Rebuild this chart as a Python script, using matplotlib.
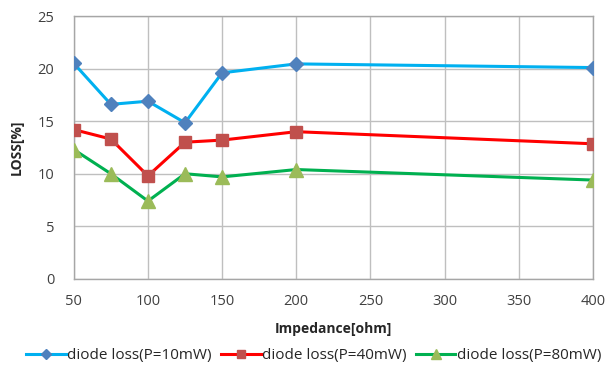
import matplotlib
matplotlib.use("Agg")
import matplotlib.pyplot as plt

impedance = [50, 75, 100, 125, 150, 200, 400]
loss_10mw = [20.5, 16.6, 16.9, 14.85, 19.6, 20.45, 20.1]
loss_40mw = [14.2, 13.3, 9.8, 13.0, 13.2, 14.0, 12.85]
loss_80mw = [12.3, 10.0, 7.4, 10.0, 9.7, 10.4, 9.4]
labels = ["diode loss(P=10mW)", "diode loss(P=40mW)", "diode loss(P=80mW)"]
x_ticks = [50, 100, 150, 200, 250, 300, 350, 400]
y_ticks = [0, 5, 10, 15, 20, 25]

plt.rcParams['font.family'] = ['Open Sans', 'DejaVu Sans']

fig = plt.figure(figsize=(6.15, 3.65), dpi=100)
ax = fig.add_axes([0.120, 0.236, 0.844, 0.720])

ax.plot(impedance, loss_10mw, color="#00B0F0", lw=2.2, marker="D", ms=7,
        mfc="#4F81BD", mec="#4F81BD", label=labels[0], zorder=3)
ax.plot(impedance, loss_40mw, color="#FF0000", lw=2.2, marker="s", ms=8.5,
        mfc="#C0504D", mec="#C0504D", label=labels[1], zorder=3)
ax.plot(impedance, loss_80mw, color="#00B050", lw=2.2, marker="^", ms=9.5,
        mfc="#9BBB59", mec="#9BBB59", label=labels[2], zorder=3)

ax.set_xlim(50, 400)
ax.set_ylim(0, 25)
ax.set_xticks(x_ticks)
ax.set_yticks(y_ticks)
ax.grid(True, color="#BFBFBF", lw=1.0)
ax.set_axisbelow(True)
for s in ax.spines.values():
    s.set_color("#A6A6A6")
    s.set_linewidth(1.0)
ax.tick_params(length=0, labelsize=10.5, colors="#404040", pad=11)
ax.tick_params(axis='y', pad=14)
ax.set_xlabel("Impedance[ohm]", fontsize=10, fontweight="bold", color="#262626", labelpad=9)
ax.set_ylabel("LOSS[%]", fontsize=10, fontweight="bold", color="#262626", labelpad=10)

fig.legend(loc="lower center", bbox_to_anchor=(0.51, -0.032), ncol=3, frameon=False,
           fontsize=11, handlelength=2.6, columnspacing=0.6, handletextpad=0.1,
           markerscale=0.75, labelcolor="#262626")

fig.savefig("out.png", dpi=100)
